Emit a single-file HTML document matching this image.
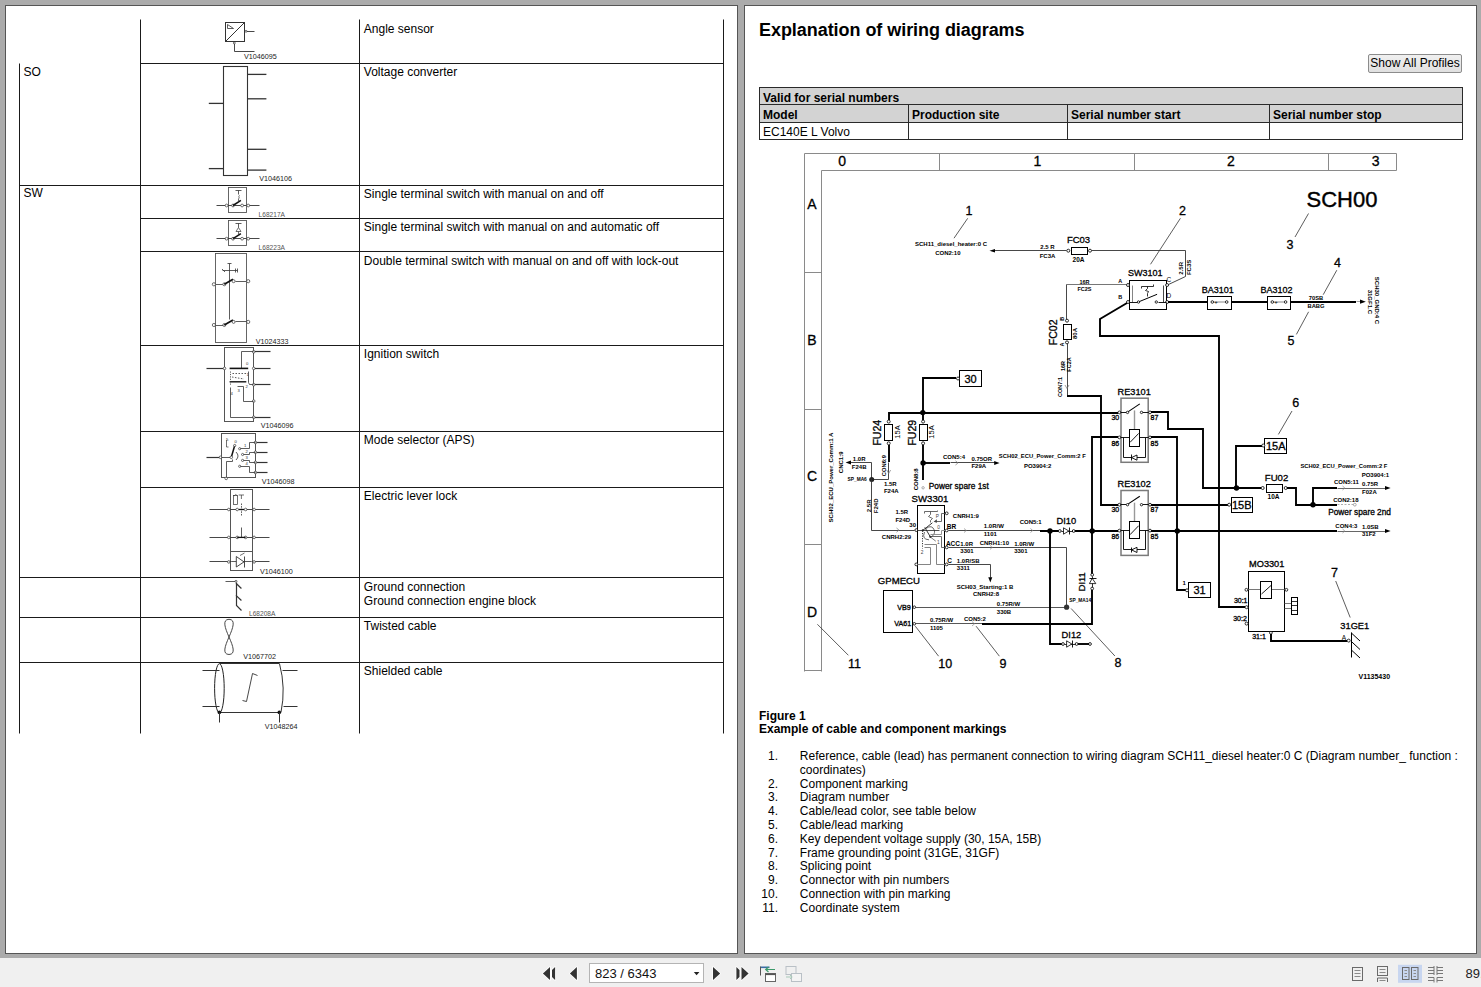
<!DOCTYPE html>
<html><head><meta charset="utf-8"><title>Explanation of wiring diagrams</title>
<style>
html,body{margin:0;padding:0}
body{width:1481px;height:987px;overflow:hidden;position:relative;background:#ababab;font-family:"Liberation Sans", sans-serif;color:#000}
.page{position:absolute;top:5px;width:731px;height:947px;background:#fff;border:1px solid #555}
#p1{left:5px}
#p2{left:744px}
h1{position:absolute;left:759px;top:20px;margin:0;font-size:18px;font-weight:bold;line-height:21px;white-space:nowrap;letter-spacing:-0.05px}
.btn{position:absolute;left:1368px;top:54px;width:92px;height:17px;border:1px solid #8c8c8c;border-radius:2px;background:linear-gradient(#f0f0f0,#e0e0e0);font-size:12px;line-height:17px;text-align:center;box-sizing:content-box;white-space:nowrap}
table.sn{position:absolute;left:759px;top:87px;width:703px;border-collapse:collapse;font-size:12px;table-layout:fixed}
table.sn td{vertical-align:top;border:1px solid #2a2a2a;padding:2px 0 0 3px;height:14px;line-height:14px;white-space:nowrap;overflow:hidden}
table.sn tr.g td{background:#d3d3d3;font-weight:bold}
table.sn tr.h td span{position:relative;top:0.6px}
.cap{position:absolute;left:759px;top:709.5px;font-size:12px;font-weight:bold;line-height:13.8px;white-space:nowrap}
ol.lst{position:absolute;left:759px;top:750px;width:710px;margin:0;padding:0;list-style:none;font-size:12px;line-height:13.8px}
ol.lst li{position:relative;padding-left:40.8px;white-space:nowrap}
ol.lst li span{position:absolute;left:0;width:19px;text-align:right;top:0}
.tb{position:absolute;left:0;top:958px;width:1481px;height:29px;background:#f0f0f0}
.pgbox{position:absolute;left:589px;top:963px;width:108px;height:18px;border:1px solid #b4b4b4;background:#fff;font-size:13px;line-height:20px;padding-left:5px;box-sizing:content-box;color:#111}
.zoom{position:absolute;left:1465.5px;top:965.5px;font-size:13px;line-height:16px;color:#222;white-space:nowrap}
svg.ov{position:absolute;left:0;top:0;font-family:"Liberation Sans", sans-serif}
svg.ov text.m{stroke:#000;stroke-width:0.3px}
svg.ov text.m1{stroke:#000;stroke-width:0.2px}
svg.ov text.m2{stroke:#000;stroke-width:0.4px}
</style></head>
<body>
<div class="page" id="p1"></div>
<div class="page" id="p2"></div>
<h1>Explanation of wiring diagrams</h1>
<div class="btn">Show All Profiles</div>
<table class="sn">
<colgroup><col style="width:149px"><col style="width:159px"><col style="width:202px"><col style="width:193px"></colgroup>
<tr class="g"><td colspan="4" style="padding-top:3px;height:13px;line-height:13px"><span style="position:relative;top:1px">Valid for serial numbers</span></td></tr>
<tr class="g h" style="height:18px"><td style="height:15px"><span>Model</span></td><td><span>Production site</span></td><td><span>Serial number start</span></td><td><span>Serial number stop</span></td></tr>
<tr><td>EC140E L Volvo</td><td></td><td></td><td></td></tr>
</table>
<div class="cap">Figure 1<br>Example of cable and component markings</div>
<ol class="lst">
<li><span>1.</span>Reference, cable (lead) has permanent connection to wiring diagram SCH11_diesel heater:0 C (Diagram number_ function :<br>coordinates)</li>
<li><span>2.</span>Component marking</li>
<li><span>3.</span>Diagram number</li>
<li><span>4.</span>Cable/lead color, see table below</li>
<li><span>5.</span>Cable/lead marking</li>
<li><span>6.</span>Key dependent voltage supply (30, 15A, 15B)</li>
<li><span>7.</span>Frame grounding point (31GE, 31GF)</li>
<li><span>8.</span>Splicing point</li>
<li><span>9.</span>Connector with pin numbers</li>
<li><span>10.</span>Connection with pin marking</li>
<li><span>11.</span>Coordinate system</li>
</ol>
<div class="tb"></div>
<div class="pgbox">823 / 6343</div>
<div class="zoom">89.</div>
<svg class="ov" width="1481" height="987" viewBox="0 0 1481 987">
<line x1="140.5" y1="19.5" x2="140.5" y2="733.5" stroke="#1a1a1a" stroke-width="1"/>
<line x1="359.5" y1="19.5" x2="359.5" y2="733.5" stroke="#1a1a1a" stroke-width="1"/>
<line x1="723.5" y1="19.5" x2="723.5" y2="733.5" stroke="#1a1a1a" stroke-width="1"/>
<line x1="19.5" y1="63.5" x2="19.5" y2="733.5" stroke="#1a1a1a" stroke-width="1"/>
<line x1="140.5" y1="63.5" x2="723.5" y2="63.5" stroke="#1a1a1a" stroke-width="1"/>
<line x1="140.5" y1="218.5" x2="723.5" y2="218.5" stroke="#1a1a1a" stroke-width="1"/>
<line x1="140.5" y1="251.5" x2="723.5" y2="251.5" stroke="#1a1a1a" stroke-width="1"/>
<line x1="140.5" y1="345.5" x2="723.5" y2="345.5" stroke="#1a1a1a" stroke-width="1"/>
<line x1="140.5" y1="431.5" x2="723.5" y2="431.5" stroke="#1a1a1a" stroke-width="1"/>
<line x1="140.5" y1="487.5" x2="723.5" y2="487.5" stroke="#1a1a1a" stroke-width="1"/>
<line x1="19.5" y1="185.5" x2="723.5" y2="185.5" stroke="#1a1a1a" stroke-width="1"/>
<line x1="19.5" y1="577.5" x2="723.5" y2="577.5" stroke="#1a1a1a" stroke-width="1"/>
<line x1="19.5" y1="617.5" x2="723.5" y2="617.5" stroke="#1a1a1a" stroke-width="1"/>
<line x1="19.5" y1="662.5" x2="723.5" y2="662.5" stroke="#1a1a1a" stroke-width="1"/>
<text x="23.5" y="75.6" font-size="12">SO</text>
<text x="23.5" y="197.4" font-size="12">SW</text>
<text x="363.8" y="32.8" font-size="12">Angle sensor</text>
<text x="363.8" y="75.8" font-size="12">Voltage converter</text>
<text x="363.8" y="198" font-size="12">Single terminal switch with manual on and off</text>
<text x="363.8" y="231" font-size="12">Single terminal switch with manual on and automatic off</text>
<text x="363.8" y="264.5" font-size="12">Double terminal switch with manual on and off with lock-out</text>
<text x="363.8" y="358.3" font-size="12">Ignition switch</text>
<text x="363.8" y="444" font-size="12">Mode selector (APS)</text>
<text x="363.8" y="500.3" font-size="12">Electric lever lock</text>
<text x="363.8" y="591" font-size="12">Ground connection</text>
<text x="363.8" y="605" font-size="12">Ground connection engine block</text>
<text x="363.8" y="630" font-size="12">Twisted cable</text>
<text x="363.8" y="675" font-size="12">Shielded cable</text>
<text x="244" y="59" font-size="7.2" fill="#222">V1046095</text>
<text x="259.3" y="180.5" font-size="7.2" fill="#222">V1046106</text>
<text x="258.6" y="216.5" font-size="6.6" fill="#555">L68217A</text>
<text x="258.6" y="249.8" font-size="6.6" fill="#555">L68223A</text>
<text x="255.8" y="343.6" font-size="7.2" fill="#222">V1024333</text>
<text x="260.8" y="427.8" font-size="7.2" fill="#222">V1046096</text>
<text x="261.7" y="483.5" font-size="7.2" fill="#222">V1046098</text>
<text x="260" y="574" font-size="7.2" fill="#222">V1046100</text>
<text x="249" y="615.9" font-size="6.6" fill="#555">L68208A</text>
<text x="243.3" y="658.5" font-size="7.2" fill="#222">V1067702</text>
<text x="264.8" y="729" font-size="7.2" fill="#222">V1048264</text>
<rect x="225.5" y="22.5" width="19" height="19" fill="none" stroke="#333" stroke-width="1"/>
<line x1="225.5" y1="41.5" x2="244.5" y2="22.5" stroke="#333" stroke-width="1"/>
<polyline points="227.5,24.5 227.5,28.5 233.5,28.5 227.5,24.5" fill="none" stroke="#333" stroke-width="0.8"/>
<line x1="244.5" y1="31.5" x2="254.5" y2="31.5" stroke="#333" stroke-width="0.9"/>
<circle cx="246" cy="31.3" r="1" fill="#fff" stroke="#333" stroke-width="0.7"/>
<polyline points="234.5,42.5 234.5,51.5 254.5,51.5" fill="none" stroke="#333" stroke-width="0.9"/>
<circle cx="234.3" cy="43" r="1" fill="#fff" stroke="#333" stroke-width="0.7"/>
<rect x="223.5" y="66.5" width="24" height="109" fill="none" stroke="#333" stroke-width="1.1"/>
<line x1="208.8" y1="103.4" x2="223.5" y2="103.4" stroke="#333" stroke-width="1.3"/>
<line x1="208.8" y1="168.6" x2="223.5" y2="168.6" stroke="#333" stroke-width="1.3"/>
<line x1="247.5" y1="74.4" x2="266.4" y2="74.4" stroke="#333" stroke-width="1.3"/>
<line x1="247.5" y1="98.8" x2="266.4" y2="98.8" stroke="#333" stroke-width="1.3"/>
<line x1="247.5" y1="149.3" x2="266.4" y2="149.3" stroke="#333" stroke-width="1.3"/>
<line x1="247.5" y1="170.1" x2="266.4" y2="170.1" stroke="#333" stroke-width="1.3"/>
<rect x="228.5" y="187.5" width="18" height="25" fill="none" stroke="#555" stroke-width="0.9"/>
<line x1="216.5" y1="205.5" x2="259.5" y2="205.5" stroke="#333" stroke-width="0.9"/>
<circle cx="226.6" cy="205.5" r="1.4" fill="#fff" stroke="#333" stroke-width="0.7"/>
<circle cx="233" cy="205.5" r="1.4" fill="#fff" stroke="#333" stroke-width="0.7"/>
<circle cx="242.1" cy="205.5" r="1.4" fill="#fff" stroke="#333" stroke-width="0.7"/>
<circle cx="248.2" cy="205.5" r="1.4" fill="#fff" stroke="#333" stroke-width="0.7"/>
<line x1="233" y1="205.5" x2="240.9" y2="200.4" stroke="#111" stroke-width="1.6"/>
<line x1="235.5" y1="190.5" x2="241.5" y2="190.5" stroke="#333" stroke-width="0.8"/>
<line x1="238.5" y1="190.5" x2="238.5" y2="194.5" stroke="#333" stroke-width="0.8"/>
<path d="M239.5 195.3 q-1.5 1.5 0 3" fill="none" stroke="#333" stroke-width="0.7"/>
<line x1="238.5" y1="198.3" x2="238.5" y2="202.5" stroke="#333" stroke-width="0.7"/>
<rect x="228.5" y="220.5" width="18" height="25" fill="none" stroke="#555" stroke-width="0.9"/>
<line x1="216.5" y1="238.5" x2="259.5" y2="238.5" stroke="#333" stroke-width="0.9"/>
<circle cx="226.6" cy="238.7" r="1.4" fill="#fff" stroke="#333" stroke-width="0.7"/>
<circle cx="233" cy="238.7" r="1.4" fill="#fff" stroke="#333" stroke-width="0.7"/>
<circle cx="242.1" cy="238.7" r="1.4" fill="#fff" stroke="#333" stroke-width="0.7"/>
<circle cx="248.2" cy="238.7" r="1.4" fill="#fff" stroke="#333" stroke-width="0.7"/>
<line x1="233" y1="238.7" x2="240.9" y2="233.6" stroke="#111" stroke-width="1.6"/>
<line x1="235.5" y1="223.5" x2="241.5" y2="223.5" stroke="#333" stroke-width="0.8"/>
<line x1="238.5" y1="223.5" x2="238.5" y2="227.5" stroke="#333" stroke-width="0.8"/>
<polygon points="236,231.5 241,231.5 238.5,227.5" fill="none" stroke="#333" stroke-width="0.7"/>
<line x1="238.5" y1="231.5" x2="238.5" y2="235.7" stroke="#333" stroke-width="0.7"/>
<rect x="215.5" y="253.5" width="31" height="89" fill="none" stroke="#555" stroke-width="0.9"/>
<line x1="227.5" y1="263.5" x2="231.5" y2="263.5" stroke="#333" stroke-width="0.8"/>
<line x1="229.5" y1="263.5" x2="229.5" y2="319.5" stroke="#333" stroke-width="0.8"/>
<line x1="222.5" y1="270.5" x2="237.5" y2="270.5" stroke="#333" stroke-width="0.8"/>
<line x1="222" y1="269" x2="225" y2="272" stroke="#333" stroke-width="0.8"/>
<line x1="235.5" y1="268.5" x2="235.5" y2="272.5" stroke="#333" stroke-width="0.8"/>
<line x1="237.5" y1="268.5" x2="237.5" y2="272.5" stroke="#333" stroke-width="0.8"/>
<line x1="213.5" y1="284.5" x2="224.5" y2="284.5" stroke="#333" stroke-width="0.8"/>
<circle cx="213.9" cy="284.3" r="1.6" fill="#fff" stroke="#333" stroke-width="0.7"/>
<circle cx="224.3" cy="284.3" r="1.5" fill="#fff" stroke="#333" stroke-width="0.7"/>
<line x1="224.3" y1="284.3" x2="233" y2="279.2" stroke="#111" stroke-width="1.7"/>
<circle cx="233.6" cy="281.2" r="1.5" fill="#fff" stroke="#333" stroke-width="0.7"/>
<line x1="235.5" y1="281.5" x2="248.5" y2="281.5" stroke="#333" stroke-width="0.8"/>
<circle cx="248.2" cy="281.2" r="1.6" fill="#fff" stroke="#333" stroke-width="0.7"/>
<line x1="213.5" y1="325.5" x2="224.5" y2="325.5" stroke="#333" stroke-width="0.8"/>
<circle cx="213.9" cy="325" r="1.6" fill="#fff" stroke="#333" stroke-width="0.7"/>
<circle cx="224.3" cy="325" r="1.5" fill="#fff" stroke="#333" stroke-width="0.7"/>
<line x1="224.3" y1="325" x2="233" y2="319.9" stroke="#111" stroke-width="1.7"/>
<circle cx="233.6" cy="321.9" r="1.5" fill="#fff" stroke="#333" stroke-width="0.7"/>
<line x1="235.5" y1="321.5" x2="248.5" y2="321.5" stroke="#333" stroke-width="0.8"/>
<circle cx="248.2" cy="321.9" r="1.6" fill="#fff" stroke="#333" stroke-width="0.7"/>
<rect x="224.5" y="347.5" width="29" height="74" fill="none" stroke="#555" stroke-width="1"/>
<line x1="206.5" y1="368.5" x2="224.5" y2="368.5" stroke="#333" stroke-width="1.2"/>
<circle cx="224.5" cy="368.4" r="1.3" fill="#fff" stroke="#333" stroke-width="0.7"/>
<line x1="253.5" y1="351.5" x2="270.5" y2="351.5" stroke="#333" stroke-width="1.2"/>
<line x1="253.5" y1="368.5" x2="270.5" y2="368.5" stroke="#333" stroke-width="1.2"/>
<line x1="253.5" y1="384.5" x2="270.5" y2="384.5" stroke="#333" stroke-width="1.2"/>
<line x1="253.5" y1="417.5" x2="270.5" y2="417.5" stroke="#333" stroke-width="1.2"/>
<circle cx="253.7" cy="351.8" r="1.3" fill="#fff" stroke="#333" stroke-width="0.7"/>
<circle cx="253.7" cy="368.4" r="1.3" fill="#fff" stroke="#333" stroke-width="0.7"/>
<circle cx="253.7" cy="384.7" r="1.3" fill="#fff" stroke="#333" stroke-width="0.7"/>
<circle cx="253.7" cy="401.1" r="1.3" fill="#fff" stroke="#333" stroke-width="0.7"/>
<circle cx="253.7" cy="417.3" r="1.3" fill="#fff" stroke="#333" stroke-width="0.7"/>
<polyline points="241.5,368.5 241.5,351.5 253.5,351.5" fill="none" stroke="#333" stroke-width="0.8"/>
<line x1="229.6" y1="368.4" x2="248.2" y2="368.4" stroke="#111" stroke-width="1.6"/>
<polyline points="248.5,371.5 248.5,382.5 249.5,384.5 253.5,384.5" fill="none" stroke="#333" stroke-width="0.8"/>
<polyline points="243.5,386.5 243.5,401.5 253.5,401.5" fill="none" stroke="#333" stroke-width="0.8"/>
<polyline points="230.5,387.5 230.5,417.5 253.5,417.5" fill="none" stroke="#333" stroke-width="0.8"/>
<line x1="229.6" y1="381.8" x2="246.3" y2="381.8" stroke="#111" stroke-width="1.4"/>
<line x1="232.5" y1="373.5" x2="246.5" y2="373.5" stroke="#333" stroke-width="0.8" stroke-dasharray="1.5 1.5"/>
<line x1="232" y1="377" x2="244" y2="379" stroke="#333" stroke-width="0.8" stroke-dasharray="1.5 1.5"/>
<line x1="230.5" y1="371.5" x2="230.5" y2="385.5" stroke="#333" stroke-width="0.8" stroke-dasharray="1.2 1.2"/>
<line x1="237.5" y1="386.5" x2="243.5" y2="386.5" stroke="#333" stroke-width="0.8"/>
<text x="246" y="365" font-size="4.2" fill="#333">0</text>
<text x="246.5" y="375.5" font-size="4.2" fill="#333">1</text>
<text x="245.5" y="387.5" font-size="4.2" fill="#333">2</text>
<text x="237.5" y="392" font-size="4.2" fill="#333">3</text>
<text x="230.5" y="394.5" font-size="4.2" fill="#333">4</text>
<rect x="221.5" y="433.5" width="34" height="44" fill="none" stroke="#555" stroke-width="1"/>
<line x1="206.5" y1="457.5" x2="221.5" y2="457.5" stroke="#333" stroke-width="1.2"/>
<circle cx="220.5" cy="457.3" r="1.3" fill="#fff" stroke="#333" stroke-width="0.7"/>
<line x1="255.5" y1="442.5" x2="267.5" y2="442.5" stroke="#333" stroke-width="1.2"/>
<circle cx="255.4" cy="442.5" r="1.3" fill="#fff" stroke="#333" stroke-width="0.7"/>
<line x1="255.5" y1="452.5" x2="267.5" y2="452.5" stroke="#333" stroke-width="1.2"/>
<circle cx="255.4" cy="452.3" r="1.3" fill="#fff" stroke="#333" stroke-width="0.7"/>
<line x1="255.5" y1="462.5" x2="267.5" y2="462.5" stroke="#333" stroke-width="1.2"/>
<circle cx="255.4" cy="462.4" r="1.3" fill="#fff" stroke="#333" stroke-width="0.7"/>
<line x1="255.5" y1="472.5" x2="267.5" y2="472.5" stroke="#333" stroke-width="1.2"/>
<circle cx="255.4" cy="472.5" r="1.3" fill="#fff" stroke="#333" stroke-width="0.7"/>
<circle cx="226.2" cy="478.4" r="1.3" fill="#fff" stroke="#333" stroke-width="0.7"/>
<line x1="221.5" y1="457.5" x2="231.5" y2="457.5" stroke="#333" stroke-width="0.8"/>
<line x1="231.3" y1="457.3" x2="234.7" y2="445.5" stroke="#111" stroke-width="1.5"/>
<circle cx="231.3" cy="457.3" r="1.3" fill="#fff" stroke="#333" stroke-width="0.7"/>
<circle cx="234.7" cy="445.5" r="1.1" fill="#fff" stroke="#333" stroke-width="0.7"/>
<polyline points="226.5,477.5 226.5,461.5 232.5,461.5 232.5,459.5" fill="none" stroke="#333" stroke-width="0.8"/>
<path d="M236 452 q4 4 0 8" fill="none" stroke="#333" stroke-width="0.8"/>
<circle cx="239.7" cy="448.7" r="1.1" fill="#fff" stroke="#333" stroke-width="0.7"/>
<polyline points="240.5,448.5 249.5,448.5 249.5,442.5 255.5,442.5" fill="none" stroke="#333" stroke-width="0.8"/>
<circle cx="242.6" cy="454.5" r="1.1" fill="#fff" stroke="#333" stroke-width="0.7"/>
<polyline points="243.5,454.5 249.5,454.5 249.5,452.5 255.5,452.5" fill="none" stroke="#333" stroke-width="0.8"/>
<circle cx="242.6" cy="460.4" r="1.1" fill="#fff" stroke="#333" stroke-width="0.7"/>
<polyline points="243.5,460.5 249.5,460.5 249.5,462.5 255.5,462.5" fill="none" stroke="#333" stroke-width="0.8"/>
<circle cx="239.7" cy="466.3" r="1.1" fill="#fff" stroke="#333" stroke-width="0.7"/>
<polyline points="240.5,466.5 249.5,466.5 249.5,472.5 255.5,472.5" fill="none" stroke="#333" stroke-width="0.8"/>
<polyline points="226.5,440 226.5,447 228.5,447" fill="none" stroke="#333" stroke-width="0.7"/>
<text x="226" y="441" font-size="4.2" fill="#333">5</text>
<text x="234.5" y="443" font-size="4.2" fill="#333">0</text>
<text x="244" y="447" font-size="4.2" fill="#333">1</text>
<text x="245.5" y="453" font-size="4.2" fill="#333">2</text>
<text x="245.5" y="459" font-size="4.2" fill="#333">3</text>
<text x="245.5" y="465" font-size="4.2" fill="#333">4</text>
<rect x="230.5" y="489.5" width="22" height="81" fill="none" stroke="#555" stroke-width="1"/>
<line x1="230.5" y1="551.5" x2="252.5" y2="551.5" stroke="#555" stroke-width="1"/>
<line x1="209.5" y1="509.5" x2="269.5" y2="509.5" stroke="#333" stroke-width="0.9"/>
<circle cx="228.8" cy="509.5" r="1.3" fill="#fff" stroke="#333" stroke-width="0.7"/>
<circle cx="237.2" cy="509.5" r="1.3" fill="#fff" stroke="#333" stroke-width="0.7"/>
<circle cx="245.6" cy="509.5" r="1.3" fill="#fff" stroke="#333" stroke-width="0.7"/>
<circle cx="254.1" cy="509.5" r="1.3" fill="#fff" stroke="#333" stroke-width="0.7"/>
<line x1="209.5" y1="537.5" x2="269.5" y2="537.5" stroke="#333" stroke-width="0.9"/>
<circle cx="228.8" cy="537.4" r="1.3" fill="#fff" stroke="#333" stroke-width="0.7"/>
<circle cx="237.2" cy="537.4" r="1.3" fill="#fff" stroke="#333" stroke-width="0.7"/>
<circle cx="245.6" cy="537.4" r="1.3" fill="#fff" stroke="#333" stroke-width="0.7"/>
<circle cx="254.1" cy="537.4" r="1.3" fill="#fff" stroke="#333" stroke-width="0.7"/>
<line x1="209.5" y1="561.5" x2="269.5" y2="561.5" stroke="#333" stroke-width="0.9"/>
<circle cx="228.8" cy="561.9" r="1.3" fill="#fff" stroke="#333" stroke-width="0.7"/>
<circle cx="254.1" cy="561.9" r="1.3" fill="#fff" stroke="#333" stroke-width="0.7"/>
<rect x="231.5" y="552" width="20.2" height="17.3" fill="#fff" stroke="none" stroke-width="0"/>
<line x1="231.5" y1="561.5" x2="251.5" y2="561.5" stroke="#333" stroke-width="0.8"/>
<polygon points="236.3,556.5 236.3,567 244,561.9" fill="#fff" stroke="#333" stroke-width="0.9"/>
<line x1="244.5" y1="556.5" x2="244.5" y2="567.5" stroke="#333" stroke-width="0.9"/>
<line x1="240" y1="555.5" x2="244.5" y2="553" stroke="#333" stroke-width="0.7"/>
<line x1="241.5" y1="503.5" x2="241.5" y2="516.5" stroke="#333" stroke-width="0.8" stroke-dasharray="1.6 1"/>
<line x1="241.5" y1="527.5" x2="241.5" y2="537.5" stroke="#333" stroke-width="0.8"/>
<line x1="239" y1="509.5" x2="244" y2="509.5" stroke="#111" stroke-width="1.3"/>
<line x1="237.2" y1="537.4" x2="245.6" y2="537.4" stroke="#111" stroke-width="1.3"/>
<rect x="233.5" y="495.5" width="4" height="9" fill="none" stroke="#333" stroke-width="0.7"/>
<path d="M234 496 q1.8 -3 3.5 0" fill="none" stroke="#333" stroke-width="0.7"/>
<line x1="238.7" y1="495" x2="244" y2="495" stroke="#333" stroke-width="0.7"/>
<line x1="241.4" y1="495" x2="241.4" y2="499" stroke="#333" stroke-width="0.7"/>
<line x1="225.5" y1="581.5" x2="235.5" y2="581.5" stroke="#333" stroke-width="0.8"/>
<circle cx="236" cy="581.3" r="1" fill="#fff" stroke="#333" stroke-width="0.7"/>
<polyline points="236.5,582.5 236.5,605.5 241.5,610.5" fill="none" stroke="#333" stroke-width="1.2"/>
<line x1="236" y1="583.3" x2="241.4" y2="588.5" stroke="#333" stroke-width="1.2"/>
<line x1="236" y1="595.4" x2="241.4" y2="600.5" stroke="#333" stroke-width="1.2"/>
<path d="M229 637 C 225 628, 222 619.5, 229 619.3 C 236 619.5, 233 628, 229 637 C 225 646, 222 654.3, 229 654.5 C 236 654.3, 233 646, 229 637 Z" fill="none" stroke="#333" stroke-width="0.9"/>
<ellipse cx="219.4" cy="688.3" rx="4.8" ry="24.6" fill="none" stroke="#222" stroke-width="1"/>
<line x1="219.5" y1="663.5" x2="279.5" y2="663.5" stroke="#333" stroke-width="1"/>
<path d="M279.5 663.7 Q 286 688 281 712.3" fill="none" stroke="#333" stroke-width="1"/>
<line x1="219.5" y1="712.5" x2="279.5" y2="712.5" stroke="#333" stroke-width="1"/>
<line x1="202.5" y1="670.5" x2="219.5" y2="670.5" stroke="#333" stroke-width="1"/>
<line x1="282.5" y1="670.5" x2="297.5" y2="670.5" stroke="#333" stroke-width="1"/>
<line x1="202.5" y1="706.5" x2="219.5" y2="706.5" stroke="#333" stroke-width="1"/>
<line x1="283.5" y1="706.5" x2="297.5" y2="706.5" stroke="#333" stroke-width="1"/>
<circle cx="219.4" cy="712.4" r="1.8" fill="#111"/>
<circle cx="279.3" cy="712.4" r="1.8" fill="#111"/>
<line x1="219.5" y1="712.5" x2="219.5" y2="722.5" stroke="#333" stroke-width="1"/>
<line x1="279.5" y1="712.5" x2="279.5" y2="722.5" stroke="#333" stroke-width="1"/>
<polyline points="242.5,700.5 246.5,701.5 252.5,673.5 257.5,675.5" fill="none" stroke="#333" stroke-width="0.9"/>
<line x1="804.5" y1="153.5" x2="1396.5" y2="153.5" stroke="#8a8a8a" stroke-width="1"/>
<line x1="821.5" y1="170.5" x2="1396.5" y2="170.5" stroke="#8a8a8a" stroke-width="1"/>
<line x1="804.5" y1="153.5" x2="804.5" y2="671.5" stroke="#8a8a8a" stroke-width="1"/>
<line x1="821.5" y1="170.5" x2="821.5" y2="671.5" stroke="#8a8a8a" stroke-width="1"/>
<line x1="804.5" y1="670.5" x2="821.5" y2="670.5" stroke="#8a8a8a" stroke-width="1"/>
<line x1="1396.5" y1="153.5" x2="1396.5" y2="170.5" stroke="#8a8a8a" stroke-width="1"/>
<line x1="939.5" y1="153.5" x2="939.5" y2="170.5" stroke="#8a8a8a" stroke-width="1"/>
<line x1="1134.5" y1="153.5" x2="1134.5" y2="170.5" stroke="#8a8a8a" stroke-width="1"/>
<line x1="1328.5" y1="153.5" x2="1328.5" y2="170.5" stroke="#8a8a8a" stroke-width="1"/>
<line x1="804.5" y1="272.5" x2="821.5" y2="272.5" stroke="#8a8a8a" stroke-width="1"/>
<line x1="804.5" y1="409.5" x2="821.5" y2="409.5" stroke="#8a8a8a" stroke-width="1"/>
<line x1="804.5" y1="544.5" x2="821.5" y2="544.5" stroke="#8a8a8a" stroke-width="1"/>
<text x="842.2" y="165.7" font-size="14" text-anchor="middle" class="m">0</text>
<text x="1037.3" y="165.7" font-size="14" text-anchor="middle" class="m">1</text>
<text x="1231" y="165.7" font-size="14" text-anchor="middle" class="m">2</text>
<text x="1375.7" y="165.7" font-size="14" text-anchor="middle" class="m">3</text>
<text x="812" y="208.9" font-size="14" text-anchor="middle" class="m">A</text>
<text x="812" y="345.1" font-size="14" text-anchor="middle" class="m">B</text>
<text x="812" y="480.5" font-size="14" text-anchor="middle" class="m">C</text>
<text x="812" y="616.9" font-size="14" text-anchor="middle" class="m">D</text>
<text x="969" y="214.7" font-size="12.5" text-anchor="middle" class="m">1</text>
<text x="1182.4" y="215" font-size="12.5" text-anchor="middle" class="m">2</text>
<text x="1290" y="249" font-size="12.5" text-anchor="middle" class="m">3</text>
<text x="1337.5" y="267" font-size="12.5" text-anchor="middle" class="m">4</text>
<text x="1291" y="345" font-size="12.5" text-anchor="middle" class="m">5</text>
<text x="1295.8" y="407.2" font-size="12.5" text-anchor="middle" class="m">6</text>
<text x="1334.6" y="576.5" font-size="12.5" text-anchor="middle" class="m">7</text>
<text x="1118" y="667.4" font-size="12.5" text-anchor="middle" class="m">8</text>
<text x="1003" y="667.8" font-size="12.5" text-anchor="middle" class="m">9</text>
<text x="945.3" y="667.8" font-size="12.5" text-anchor="middle" class="m">10</text>
<text x="854.5" y="668.3" font-size="12.5" text-anchor="middle" class="m">11</text>
<line x1="967.7" y1="218.3" x2="954" y2="238.2" stroke="#333" stroke-width="0.8"/>
<line x1="1180.4" y1="218.3" x2="1150.5" y2="264.3" stroke="#333" stroke-width="0.8"/>
<line x1="1308.5" y1="213.5" x2="1295" y2="237" stroke="#333" stroke-width="0.8"/>
<line x1="1336.8" y1="270.2" x2="1323.2" y2="294.7" stroke="#333" stroke-width="0.8"/>
<line x1="1296.4" y1="334.4" x2="1308.6" y2="311.8" stroke="#333" stroke-width="0.8"/>
<line x1="1292" y1="411" x2="1278.4" y2="434.4" stroke="#333" stroke-width="0.8"/>
<line x1="1335.7" y1="581" x2="1350.2" y2="617.5" stroke="#333" stroke-width="0.8"/>
<line x1="1071.1" y1="608.5" x2="1114.9" y2="656" stroke="#333" stroke-width="0.8"/>
<line x1="976.1" y1="626.2" x2="999.4" y2="656.2" stroke="#333" stroke-width="0.8"/>
<line x1="915.3" y1="626.2" x2="938.6" y2="656.2" stroke="#333" stroke-width="0.8"/>
<line x1="817.4" y1="624.3" x2="848.4" y2="655.3" stroke="#333" stroke-width="0.8"/>
<text x="1306.5" y="206.9" font-size="22" class="m2">SCH00</text>
<line x1="993.5" y1="250.5" x2="1066.5" y2="250.5" stroke="#333" stroke-width="0.9"/>
<polygon points="989.5,250.7 995,248.9 995,252.5" fill="#000" stroke="none" stroke-width="0"/>
<text x="951" y="246.2" font-size="6" text-anchor="middle" font-weight="bold">SCH11_diesel_heater:0 C</text>
<text x="947.8" y="254.6" font-size="6" text-anchor="middle" font-weight="bold">CON2:10</text>
<text x="1047.5" y="249.3" font-size="6" text-anchor="middle" font-weight="bold">2.5 R</text>
<text x="1047.5" y="257.6" font-size="6" text-anchor="middle" font-weight="bold">FC3A</text>
<text x="1078.5" y="243.4" font-size="9.5" text-anchor="middle" class="m">FC03</text>
<circle cx="1068.3" cy="250.7" r="1.5" fill="#fff" stroke="#000" stroke-width="0.8"/>
<rect x="1071.5" y="247.5" width="16" height="7" fill="none" stroke="#000" stroke-width="1"/>
<circle cx="1090" cy="250.7" r="1.5" fill="#fff" stroke="#000" stroke-width="0.8"/>
<text x="1078.5" y="262" font-size="6.5" text-anchor="middle" font-weight="bold">20A</text>
<polyline points="1091.5,250.5 1185.5,250.5 1185.5,276.5 1168.5,284.5" fill="none" stroke="#333" stroke-width="0.9"/>
<text x="1180.7" y="270.4" font-size="6" text-anchor="middle" font-weight="bold" transform="rotate(-90 1180.7 268.3)">2.5R</text>
<text x="1189.2" y="269.5" font-size="6" text-anchor="middle" font-weight="bold" transform="rotate(-90 1189.2 267.4)">FC3S</text>
<line x1="1066.5" y1="284.5" x2="1126.5" y2="284.5" stroke="#666" stroke-width="0.9"/>
<line x1="1066.5" y1="284.5" x2="1066.5" y2="319.5" stroke="#333" stroke-width="0.9"/>
<text x="1084.5" y="283.6" font-size="5.5" text-anchor="middle" font-weight="bold">16R</text>
<text x="1084.5" y="291" font-size="5.5" text-anchor="middle" font-weight="bold">FC2S</text>
<text x="1128" y="275.7" font-size="9" class="m">SW3101</text>
<rect x="1129.5" y="280.5" width="37" height="29" fill="none" stroke="#000" stroke-width="1"/>
<circle cx="1128" cy="285" r="1.5" fill="#fff" stroke="#000" stroke-width="0.8"/>
<circle cx="1128" cy="302" r="1.5" fill="#fff" stroke="#000" stroke-width="0.8"/>
<circle cx="1167.1" cy="285" r="1.5" fill="#fff" stroke="#000" stroke-width="0.8"/>
<circle cx="1167.1" cy="302" r="1.5" fill="#fff" stroke="#000" stroke-width="0.8"/>
<text x="1120.2" y="282.5" font-size="5.5" text-anchor="middle" font-weight="bold">A</text>
<text x="1120.2" y="298.8" font-size="5.5" text-anchor="middle" font-weight="bold">B</text>
<text x="1168.9" y="281.7" font-size="6.5" text-anchor="middle">C</text>
<text x="1168.9" y="298.3" font-size="6.5" text-anchor="middle">D</text>
<line x1="1132.5" y1="285.5" x2="1132.5" y2="302.5" stroke="#777" stroke-width="0.9"/>
<line x1="1163.5" y1="285.5" x2="1163.5" y2="302.5" stroke="#333" stroke-width="0.9"/>
<line x1="1129.5" y1="302.5" x2="1137.5" y2="302.5" stroke="#000" stroke-width="0.9"/>
<line x1="1158.5" y1="302.5" x2="1166.5" y2="302.5" stroke="#000" stroke-width="0.9"/>
<circle cx="1138.5" cy="302" r="1.2" fill="#fff" stroke="#000" stroke-width="0.8"/>
<circle cx="1156.3" cy="302" r="1.2" fill="#fff" stroke="#000" stroke-width="0.8"/>
<line x1="1139.5" y1="301.5" x2="1157.1" y2="294.3" stroke="#000" stroke-width="1"/>
<polyline points="1141.5,288.5 1141.5,286.5 1153.5,286.5 1153.5,284.5" fill="none" stroke="#000" stroke-width="0.8"/>
<polyline points="1147.5,286.5 1147.5,288.5 1145.5,290.5 1148.5,291.5 1147.5,293.5 1147.5,296.5" fill="none" stroke="#000" stroke-width="0.8"/>
<polyline points="1127,303 1100,319 1100,336 1219,336 1219,607 1245,607" fill="none" stroke="#000" stroke-width="1.9"/>
<line x1="1168" y1="302" x2="1356" y2="302" stroke="#000" stroke-width="1.9"/>
<line x1="1356.5" y1="301.5" x2="1360.5" y2="301.5" stroke="#888" stroke-width="0.8"/>
<polygon points="1365.8,301.7 1360,299.6 1360,303.8" fill="#000" stroke="none" stroke-width="0"/>
<rect x="1207.5" y="296.5" width="24" height="13" fill="#fff" stroke="#000" stroke-width="1"/>
<circle cx="1212.3" cy="302" r="1.3" fill="#fff" stroke="#000" stroke-width="0.8"/>
<circle cx="1226.7" cy="302" r="1.3" fill="#fff" stroke="#000" stroke-width="0.8"/>
<line x1="1214" y1="302" x2="1225" y2="302" stroke="#555" stroke-width="0.7"/>
<text x="1216" y="304" font-size="6" text-anchor="middle">+</text>
<rect x="1267.5" y="296.5" width="23" height="13" fill="#fff" stroke="#000" stroke-width="1"/>
<circle cx="1272.3" cy="302" r="1.3" fill="#fff" stroke="#000" stroke-width="0.8"/>
<circle cx="1285.6" cy="302" r="1.3" fill="#fff" stroke="#000" stroke-width="0.8"/>
<line x1="1274" y1="302" x2="1283.9" y2="302" stroke="#555" stroke-width="0.7"/>
<text x="1276" y="304" font-size="6" text-anchor="middle">+</text>
<text x="1201.8" y="292.6" font-size="9" class="m">BA3101</text>
<text x="1260.4" y="292.6" font-size="9" class="m">BA3102</text>
<text x="1316" y="300.3" font-size="5.8" text-anchor="middle" font-weight="bold">70SB</text>
<text x="1316" y="308.3" font-size="5.8" text-anchor="middle" font-weight="bold">BABG</text>
<text x="1377.2" y="302.6" font-size="6" text-anchor="middle" font-weight="bold" transform="rotate(90 1377.2 300.5)">SCH30_GND:4 C</text>
<text x="1370.5" y="303.9" font-size="6" text-anchor="middle" font-weight="bold" transform="rotate(90 1370.5 301.8)">31GF1.C</text>
<circle cx="1067" cy="320.7" r="1.5" fill="#fff" stroke="#000" stroke-width="0.8"/>
<rect x="1063.5" y="324.5" width="8" height="15" fill="none" stroke="#000" stroke-width="1"/>
<circle cx="1067" cy="342.4" r="1.5" fill="#fff" stroke="#000" stroke-width="0.8"/>
<text x="1053.6" y="335.98" font-size="10.5" text-anchor="middle" class="m" transform="rotate(-90 1053.6 332.3)">FC02</text>
<text x="1061.8" y="320.73" font-size="5.5" text-anchor="middle" font-weight="bold" transform="rotate(-90 1061.8 318.8)">B</text>
<text x="1061.8" y="346.43" font-size="5.5" text-anchor="middle" font-weight="bold" transform="rotate(-90 1061.8 344.5)">A</text>
<text x="1074.5" y="335.6" font-size="6" text-anchor="middle" font-weight="bold" transform="rotate(-90 1074.5 333.5)">80A</text>
<line x1="1067.5" y1="343.5" x2="1067.5" y2="395.5" stroke="#333" stroke-width="0.9"/>
<text x="1062.6" y="367.93" font-size="5.5" text-anchor="middle" font-weight="bold" transform="rotate(-90 1062.6 366)">16R</text>
<text x="1068.9" y="366.43" font-size="5.5" text-anchor="middle" font-weight="bold" transform="rotate(-90 1068.9 364.5)">FC2A</text>
<text x="1060.5" y="388.93" font-size="5.5" text-anchor="middle" font-weight="bold" transform="rotate(-90 1060.5 387)">CON7:1</text>
<polyline points="1065,385 1067,388.5 1069,385" fill="none" stroke="#777" stroke-width="0.7"/>
<polyline points="1067,396 1101,396 1101,505 1118,505" fill="none" stroke="#000" stroke-width="1.9"/>
<rect x="959.5" y="370.5" width="22" height="16" fill="none" stroke="#000" stroke-width="1"/>
<circle cx="958" cy="378.5" r="1.5" fill="#fff" stroke="#000" stroke-width="0.8"/>
<text x="970.5" y="382.6" font-size="11" text-anchor="middle" class="m">30</text>
<polyline points="956,378 923,378 923,413" fill="none" stroke="#000" stroke-width="1.9"/>
<line x1="889" y1="413" x2="1118" y2="413" stroke="#000" stroke-width="1.9"/>
<line x1="889" y1="412" x2="889" y2="420" stroke="#000" stroke-width="1.9"/>
<line x1="923" y1="413" x2="923" y2="420" stroke="#000" stroke-width="1.9"/>
<circle cx="922.8" cy="412.6" r="2.7" fill="#000"/>
<circle cx="888.7" cy="421.6" r="1.5" fill="#fff" stroke="#000" stroke-width="0.8"/>
<rect x="884.5" y="424.5" width="8" height="16" fill="none" stroke="#000" stroke-width="1"/>
<circle cx="888.7" cy="443.3" r="1.5" fill="#fff" stroke="#000" stroke-width="0.8"/>
<text x="877.7" y="436.38" font-size="10.5" text-anchor="middle" class="m" transform="rotate(-90 877.7 432.7)">FU24</text>
<text x="896.9" y="434.62" font-size="7.5" text-anchor="middle" transform="rotate(-90 896.9 432)">15A</text>
<circle cx="923.1" cy="421.6" r="1.5" fill="#fff" stroke="#000" stroke-width="0.8"/>
<rect x="919.5" y="424.5" width="8" height="16" fill="none" stroke="#000" stroke-width="1"/>
<circle cx="923.1" cy="443.3" r="1.5" fill="#fff" stroke="#000" stroke-width="0.8"/>
<text x="912.1" y="436.38" font-size="10.5" text-anchor="middle" class="m" transform="rotate(-90 912.1 432.7)">FU29</text>
<text x="931.3" y="434.62" font-size="7.5" text-anchor="middle" transform="rotate(-90 931.3 432)">15A</text>
<line x1="889" y1="445" x2="889" y2="462" stroke="#000" stroke-width="1.9"/>
<line x1="888.5" y1="462.5" x2="888.5" y2="479.5" stroke="#333" stroke-width="0.9"/>
<polyline points="886.8,470 888.7,473.5 890.6,470" fill="none" stroke="#777" stroke-width="0.7"/>
<text x="884.3" y="467.63" font-size="5.8" text-anchor="middle" font-weight="bold" transform="rotate(-90 884.3 465.6)">CON6:9</text>
<polyline points="888.5,479.5 871.5,479.5 871.5,462.5 849.5,462.5" fill="none" stroke="#333" stroke-width="0.9"/>
<polygon points="845.6,462.5 851,460.5 851,464.5" fill="#000" stroke="none" stroke-width="0"/>
<circle cx="871.7" cy="479.6" r="2.5" fill="#222"/>
<text x="866.8" y="481" font-size="4.8" text-anchor="end" font-weight="bold">SP_MA6</text>
<text x="859.2" y="461" font-size="6" text-anchor="middle" font-weight="bold">1.0R</text>
<text x="859.2" y="468.6" font-size="6" text-anchor="middle" font-weight="bold">F24B</text>
<polyline points="871.5,479.5 871.5,530.5 914.5,530.5" fill="none" stroke="#333" stroke-width="0.9"/>
<polyline points="896.5,528 899,530.1 896.5,532.2" fill="none" stroke="#777" stroke-width="0.7"/>
<text x="869.4" y="507.9" font-size="6" text-anchor="middle" font-weight="bold" transform="rotate(-90 869.4 505.8)">2.5R</text>
<text x="875.6" y="507.9" font-size="6" text-anchor="middle" font-weight="bold" transform="rotate(-90 875.6 505.8)">F24D</text>
<text x="883.9" y="485.5" font-size="6" font-weight="bold">1.5R</text>
<text x="883.9" y="492.6" font-size="6" font-weight="bold">F24A</text>
<text x="830.5" y="479.6" font-size="6" text-anchor="middle" font-weight="bold" transform="rotate(-90 830.5 477.5)">SCH02_ECU_Power_Comm:1 A</text>
<text x="840.7" y="464.4" font-size="6" text-anchor="middle" font-weight="bold" transform="rotate(-90 840.7 462.3)">CNC1:9</text>
<line x1="923" y1="445" x2="923" y2="480" stroke="#000" stroke-width="1.9"/>
<circle cx="923.1" cy="462.9" r="2.7" fill="#000"/>
<line x1="923" y1="463" x2="950" y2="463" stroke="#000" stroke-width="1.9"/>
<line x1="950.5" y1="462.5" x2="995.5" y2="462.5" stroke="#333" stroke-width="0.9"/>
<polyline points="955.5,460.8 958,462.9 955.5,465" fill="none" stroke="#777" stroke-width="0.7"/>
<polygon points="999.6,462.9 994.2,460.9 994.2,464.9" fill="#000" stroke="none" stroke-width="0"/>
<text x="954" y="458.6" font-size="6" text-anchor="middle" font-weight="bold">CON5:4</text>
<text x="971.4" y="460.6" font-size="6" font-weight="bold">0.75OR</text>
<text x="971.4" y="468.2" font-size="6" font-weight="bold">F29A</text>
<circle cx="923.1" cy="487.8" r="1.2" fill="#fff" stroke="#888" stroke-width="0.7"/>
<text x="915.6" y="481.4" font-size="6" text-anchor="middle" font-weight="bold" transform="rotate(-90 915.6 479.3)">CON8:8</text>
<text x="928.8" y="488.5" font-size="8.3" class="m">Power spare 1st</text>
<text x="1042.3" y="458" font-size="6" text-anchor="middle" font-weight="bold" textLength="87" lengthAdjust="spacingAndGlyphs">SCH02_ECU_Power_Comm:2 F</text>
<text x="1037.6" y="467.6" font-size="6" text-anchor="middle" font-weight="bold">PO3904:2</text>
<text x="911.6" y="501.8" font-size="9.6" class="m">SW3301</text>
<rect x="917.5" y="505.5" width="27" height="68" fill="none" stroke="#000" stroke-width="1"/>
<circle cx="916.3" cy="530.1" r="1.4" fill="#fff" stroke="#000" stroke-width="0.8"/>
<circle cx="916.3" cy="564.4" r="1.4" fill="#fff" stroke="#000" stroke-width="0.8"/>
<circle cx="946.7" cy="513.3" r="1.4" fill="#fff" stroke="#000" stroke-width="0.8"/>
<circle cx="946.7" cy="530.5" r="1.4" fill="#fff" stroke="#000" stroke-width="0.8"/>
<circle cx="946.7" cy="547.4" r="1.4" fill="#fff" stroke="#000" stroke-width="0.8"/>
<circle cx="946.7" cy="564.4" r="1.4" fill="#fff" stroke="#000" stroke-width="0.8"/>
<polyline points="924.5,513.5 924.5,511.5 937.5,511.5 937.5,510.5" fill="none" stroke="#444" stroke-width="0.8"/>
<polyline points="930.5,511.5 930.5,514.5 928.5,516.5 932.5,518.5 930.5,520.5 930.5,522.5" fill="none" stroke="#444" stroke-width="0.8"/>
<text x="937.4" y="518.2" font-size="4.8" text-anchor="middle" fill="#444">P</text>
<polyline points="945.5,513.5 941.5,513.5 941.5,521.5 935.5,521.5" fill="none" stroke="#444" stroke-width="0.8"/>
<polygon points="933.6,521.8 936.8,519.3 937,522.8" fill="#444" stroke="none" stroke-width="0"/>
<line x1="922.8" y1="530.4" x2="932.4" y2="522.8" stroke="#222" stroke-width="0.9"/>
<line x1="924.8" y1="527.4" x2="930.3" y2="536.8" stroke="#222" stroke-width="0.9"/>
<path d="M924.5 532 Q 921.5 539.5 929 539.8" fill="none" stroke="#444" stroke-width="0.8"/>
<path d="M926 528.5 Q 932 524 934.5 530.5 Q 935 535 931 537" fill="none" stroke="#444" stroke-width="0.8"/>
<circle cx="922.8" cy="530.4" r="1.1" fill="#222"/>
<circle cx="930.3" cy="536.8" r="1.1" fill="#222"/>
<text x="938.6" y="529.3" font-size="4.8" text-anchor="middle" fill="#444">0</text>
<text x="938.4" y="544.4" font-size="4.8" text-anchor="middle" fill="#444">1</text>
<line x1="931" y1="537.5" x2="935.8" y2="541.2" stroke="#444" stroke-width="0.7"/>
<line x1="917.5" y1="530.5" x2="939.5" y2="530.5" stroke="#222" stroke-width="0.8"/>
<polyline points="945.5,530.5 941.5,530.5 941.5,534.5 930.5,534.5" fill="none" stroke="#888" stroke-width="0.9"/>
<polyline points="930.5,536.5 941.5,536.5 941.5,547.5 945.5,547.5" fill="none" stroke="#444" stroke-width="0.8"/>
<line x1="922.5" y1="530.5" x2="922.5" y2="548.5" stroke="#222" stroke-width="0.9" stroke-dasharray="1.2 1.3"/>
<text x="922" y="554" font-size="4.8" text-anchor="middle" fill="#444">2</text>
<polyline points="924.5,544.5 936.5,544.5 936.5,564.5 945.5,564.5" fill="none" stroke="#777" stroke-width="0.9"/>
<polyline points="924.5,547.5 930.5,547.5 930.5,564.5 917.5,564.5" fill="none" stroke="#777" stroke-width="0.9"/>
<text x="895.4" y="514.4" font-size="6" font-weight="bold">1.5R</text>
<text x="895.4" y="521.8" font-size="6" font-weight="bold">F24D</text>
<text x="909.3" y="527.2" font-size="6" font-weight="bold">30</text>
<text x="881.8" y="539.4" font-size="6" font-weight="bold">CNRH2:29</text>
<text x="952.8" y="518.3" font-size="6" font-weight="bold">CNRH1:9</text>
<text x="946.7" y="529.3" font-size="6.5" font-weight="bold">BR</text>
<text x="945.9" y="545.8" font-size="6.5" font-weight="bold">ACC</text>
<text x="947.3" y="563.2" font-size="6.5" font-weight="bold">C</text>
<line x1="948.5" y1="530.5" x2="1041.5" y2="530.5" stroke="#333" stroke-width="0.9"/>
<polyline points="964,528.5 966.3,530.5 964,532.5" fill="none" stroke="#888" stroke-width="0.7"/>
<polyline points="1030.5,528.5 1032.8,530.5 1030.5,532.5" fill="none" stroke="#888" stroke-width="0.7"/>
<text x="983.8" y="528.2" font-size="6" font-weight="bold">1.0R/W</text>
<text x="983.8" y="535.6" font-size="6" font-weight="bold">1101</text>
<text x="1019.7" y="524.2" font-size="6" font-weight="bold">CON5:1</text>
<line x1="1040" y1="531" x2="1058" y2="531" stroke="#000" stroke-width="1.9"/>
<polyline points="948.5,547.5 1066.5,547.5 1066.5,607.5" fill="none" stroke="#333" stroke-width="0.9"/>
<polyline points="990,545.4 992.3,547.4 990,549.4" fill="none" stroke="#888" stroke-width="0.7"/>
<text x="960.3" y="545.6" font-size="6" font-weight="bold">1.0R</text>
<text x="960.3" y="552.8" font-size="6" font-weight="bold">3301</text>
<text x="979.7" y="544.6" font-size="6" font-weight="bold">CNRH1:10</text>
<text x="1014.2" y="545.6" font-size="6" font-weight="bold">1.0R/W</text>
<text x="1014.2" y="552.8" font-size="6" font-weight="bold">3301</text>
<polyline points="948.5,564.5 990.5,564.5 990.5,577.5" fill="none" stroke="#333" stroke-width="0.9"/>
<polygon points="990.3,582.5 988.3,577.3 992.3,577.3" fill="#000" stroke="none" stroke-width="0"/>
<text x="956.8" y="562.6" font-size="6" font-weight="bold">1.0R/SB</text>
<text x="956.8" y="569.8" font-size="6" font-weight="bold">3311</text>
<text x="985" y="589" font-size="6" text-anchor="middle" font-weight="bold">SCH03_Starting:1 B</text>
<text x="986" y="595.6" font-size="6" text-anchor="middle" font-weight="bold">CNRH2:8</text>
<text x="877.8" y="584.3" font-size="9.6" class="m">GPMECU</text>
<rect x="883.5" y="590.5" width="29" height="42" fill="none" stroke="#000" stroke-width="1"/>
<text x="910.8" y="609.7" font-size="7.2" text-anchor="end" class="m">VB9</text>
<text x="911.3" y="626.2" font-size="7.2" text-anchor="end" class="m">VA61</text>
<circle cx="914.3" cy="607.2" r="1.3" fill="#fff" stroke="#000" stroke-width="0.8"/>
<circle cx="914.3" cy="623.8" r="1.3" fill="#fff" stroke="#000" stroke-width="0.8"/>
<line x1="915.5" y1="607.5" x2="1066.5" y2="607.5" stroke="#444" stroke-width="0.9"/>
<circle cx="1066.6" cy="607.2" r="2.6" fill="#333"/>
<text x="1069.3" y="602.2" font-size="4.8" font-weight="bold">SP_MA14</text>
<text x="996.8" y="606.2" font-size="6" font-weight="bold">0.75R/W</text>
<text x="996.8" y="613.6" font-size="6" font-weight="bold">330B</text>
<line x1="915.5" y1="623.5" x2="982.5" y2="623.5" stroke="#444" stroke-width="0.9"/>
<polyline points="972,621.6 974.5,623.8 972,626" fill="none" stroke="#888" stroke-width="0.7"/>
<text x="929.9" y="621.6" font-size="6" font-weight="bold">0.75R/W</text>
<text x="929.9" y="629.6" font-size="6" font-weight="bold">1105</text>
<text x="963.9" y="620.6" font-size="6" font-weight="bold">CON5:2</text>
<polyline points="982,624 1092,624 1092,590" fill="none" stroke="#000" stroke-width="1.9"/>
<text x="1117.6" y="394.6" font-size="9.2" class="m">RE3101</text>
<rect x="1121" y="398.2" width="27.2" height="64.1" fill="none" stroke="#7a7a7a" stroke-width="1.5"/>
<circle cx="1119.4" cy="412.4" r="1.4" fill="#fff" stroke="#000" stroke-width="0.8"/>
<circle cx="1150" cy="412.4" r="1.4" fill="#fff" stroke="#000" stroke-width="0.8"/>
<circle cx="1119.4" cy="437.4" r="1.4" fill="#fff" stroke="#000" stroke-width="0.8"/>
<circle cx="1150" cy="437.4" r="1.4" fill="#fff" stroke="#000" stroke-width="0.8"/>
<text x="1111.4" y="419.8" font-size="7" class="m">30</text>
<text x="1150.6" y="419.8" font-size="7" class="m">87</text>
<text x="1111.4" y="445.5" font-size="7" class="m">86</text>
<text x="1150.6" y="445.5" font-size="7" class="m">85</text>
<line x1="1120.5" y1="412.5" x2="1126.5" y2="412.5" stroke="#000" stroke-width="0.9"/>
<line x1="1142.5" y1="412.5" x2="1148.5" y2="412.5" stroke="#000" stroke-width="0.9"/>
<circle cx="1127.5" cy="412.4" r="1.2" fill="#fff" stroke="#000" stroke-width="0.8"/>
<circle cx="1141.5" cy="412.4" r="1.2" fill="#fff" stroke="#000" stroke-width="0.8"/>
<line x1="1128.3" y1="411.6" x2="1139.8" y2="403.9" stroke="#000" stroke-width="1.1"/>
<line x1="1134.5" y1="410.4" x2="1134.5" y2="429.4" stroke="#999" stroke-width="1.4"/>
<rect x="1129.5" y="429.5" width="10" height="17" fill="none" stroke="#000" stroke-width="1"/>
<line x1="1130" y1="442.4" x2="1138.7" y2="433.4" stroke="#000" stroke-width="0.9"/>
<line x1="1120.5" y1="437.5" x2="1129.5" y2="437.5" stroke="#000" stroke-width="0.9"/>
<line x1="1139.5" y1="437.5" x2="1148.5" y2="437.5" stroke="#000" stroke-width="0.9"/>
<polyline points="1123.5,437.5 1123.5,457.5 1145.5,457.5 1145.5,437.5" fill="none" stroke="#000" stroke-width="0.9"/>
<polygon points="1131.5,457.6 1137,455 1137,460.2" fill="#fff" stroke="#000" stroke-width="0.9"/>
<line x1="1131.5" y1="454.5" x2="1131.5" y2="460.5" stroke="#000" stroke-width="0.9"/>
<text x="1117.6" y="486.9" font-size="9.2" class="m">RE3102</text>
<rect x="1121" y="490.5" width="27.2" height="64.9" fill="none" stroke="#7a7a7a" stroke-width="1.5"/>
<circle cx="1119.4" cy="504.7" r="1.4" fill="#fff" stroke="#000" stroke-width="0.8"/>
<circle cx="1150" cy="504.7" r="1.4" fill="#fff" stroke="#000" stroke-width="0.8"/>
<circle cx="1119.4" cy="530.6" r="1.4" fill="#fff" stroke="#000" stroke-width="0.8"/>
<circle cx="1150" cy="530.6" r="1.4" fill="#fff" stroke="#000" stroke-width="0.8"/>
<text x="1111.4" y="512.1" font-size="7" class="m">30</text>
<text x="1150.6" y="512.1" font-size="7" class="m">87</text>
<text x="1111.4" y="538.7" font-size="7" class="m">86</text>
<text x="1150.6" y="538.7" font-size="7" class="m">85</text>
<line x1="1120.5" y1="504.5" x2="1126.5" y2="504.5" stroke="#000" stroke-width="0.9"/>
<line x1="1142.5" y1="504.5" x2="1148.5" y2="504.5" stroke="#000" stroke-width="0.9"/>
<circle cx="1127.5" cy="504.7" r="1.2" fill="#fff" stroke="#000" stroke-width="0.8"/>
<circle cx="1141.5" cy="504.7" r="1.2" fill="#fff" stroke="#000" stroke-width="0.8"/>
<line x1="1128.3" y1="503.9" x2="1139.8" y2="496.2" stroke="#000" stroke-width="1.1"/>
<line x1="1134.5" y1="502.7" x2="1134.5" y2="521.7" stroke="#999" stroke-width="1.4"/>
<rect x="1129.5" y="521.5" width="10" height="17" fill="none" stroke="#000" stroke-width="1"/>
<line x1="1130" y1="534.7" x2="1138.7" y2="525.7" stroke="#000" stroke-width="0.9"/>
<line x1="1120.5" y1="530.5" x2="1129.5" y2="530.5" stroke="#000" stroke-width="0.9"/>
<line x1="1139.5" y1="530.5" x2="1148.5" y2="530.5" stroke="#000" stroke-width="0.9"/>
<polyline points="1123.5,530.5 1123.5,549.5 1145.5,549.5 1145.5,530.5" fill="none" stroke="#000" stroke-width="0.9"/>
<polygon points="1131.5,549.9 1137,547.3 1137,552.5" fill="#fff" stroke="#000" stroke-width="0.9"/>
<line x1="1131.5" y1="547.5" x2="1131.5" y2="552.5" stroke="#000" stroke-width="0.9"/>
<polyline points="1151,412 1168,412 1168,429 1203,429 1203,488 1261,488" fill="none" stroke="#000" stroke-width="1.9"/>
<polyline points="1118,437 1092,437 1092,574" fill="none" stroke="#000" stroke-width="1.9"/>
<polyline points="1151,437 1177,437 1177,590 1186,590" fill="none" stroke="#000" stroke-width="1.9"/>
<line x1="1151" y1="505" x2="1228" y2="505" stroke="#000" stroke-width="1.9"/>
<line x1="1040" y1="531" x2="1118" y2="531" stroke="#000" stroke-width="1.9"/>
<line x1="1151" y1="531" x2="1337" y2="531" stroke="#000" stroke-width="1.9"/>
<line x1="1337.5" y1="531.5" x2="1385.5" y2="531.5" stroke="#555" stroke-width="0.9"/>
<polygon points="1390.6,531 1385,529 1385,533" fill="#000" stroke="none" stroke-width="0"/>
<polyline points="1236,488 1236,446 1262,446" fill="none" stroke="#000" stroke-width="1.9"/>
<circle cx="1050" cy="531" r="2.7" fill="#000"/>
<circle cx="1092.2" cy="531" r="2.7" fill="#000"/>
<circle cx="1177.3" cy="531" r="2.7" fill="#000"/>
<circle cx="1236.5" cy="488" r="2.7" fill="#000"/>
<circle cx="1313" cy="504.7" r="2.7" fill="#000"/>
<circle cx="1059.8" cy="531" r="1.4" fill="#fff" stroke="#000" stroke-width="0.8"/>
<circle cx="1073.7" cy="531" r="1.4" fill="#fff" stroke="#000" stroke-width="0.8"/>
<rect x="1061.5" y="527" width="10.5" height="8" fill="#fff" stroke="none" stroke-width="0"/>
<line x1="1061.5" y1="531.5" x2="1072.5" y2="531.5" stroke="#000" stroke-width="0.8"/>
<polygon points="1063.5,527.8 1063.5,534.2 1068.8,531" fill="#fff" stroke="#000" stroke-width="0.8"/>
<line x1="1069.5" y1="527.5" x2="1069.5" y2="534.5" stroke="#000" stroke-width="0.9"/>
<text x="1056.5" y="523.7" font-size="9.3" class="m">DI10</text>
<circle cx="1092.2" cy="574.8" r="1.4" fill="#fff" stroke="#000" stroke-width="0.8"/>
<circle cx="1092.2" cy="588.5" r="1.4" fill="#fff" stroke="#000" stroke-width="0.8"/>
<line x1="1092.5" y1="576.5" x2="1092.5" y2="587.5" stroke="#000" stroke-width="0.8"/>
<polygon points="1089.4,583.6 1095.8,583.6 1092.2,578.3" fill="#fff" stroke="#000" stroke-width="0.8"/>
<line x1="1089.5" y1="578.5" x2="1096.5" y2="578.5" stroke="#000" stroke-width="0.9"/>
<text x="1082" y="585.05" font-size="9.3" text-anchor="middle" class="m" transform="rotate(-90 1082 581.8)">DI11</text>
<polyline points="1050,531 1050,644 1062,644" fill="none" stroke="#000" stroke-width="1.9"/>
<circle cx="1063" cy="644" r="1.4" fill="#fff" stroke="#000" stroke-width="0.8"/>
<circle cx="1076.6" cy="644" r="1.4" fill="#fff" stroke="#000" stroke-width="0.8"/>
<circle cx="1090" cy="644" r="1.4" fill="#fff" stroke="#000" stroke-width="0.8"/>
<line x1="1064.5" y1="644.5" x2="1075.5" y2="644.5" stroke="#000" stroke-width="0.8"/>
<polygon points="1066.6,640.8 1066.6,647.2 1071.8,644" fill="#fff" stroke="#000" stroke-width="0.8"/>
<line x1="1072.5" y1="640.5" x2="1072.5" y2="647.5" stroke="#000" stroke-width="0.9"/>
<line x1="1078" y1="644" x2="1089" y2="644" stroke="#000" stroke-width="1.9"/>
<text x="1061.6" y="638" font-size="9.3" class="m">DI12</text>
<rect x="1264.5" y="438.5" width="22" height="15" fill="none" stroke="#000" stroke-width="1"/>
<circle cx="1263.3" cy="445.5" r="1.5" fill="#fff" stroke="#000" stroke-width="0.8"/>
<text x="1275.8" y="449.65" font-size="11" text-anchor="middle" class="m">15A</text>
<rect x="1231.5" y="497.5" width="21" height="15" fill="none" stroke="#000" stroke-width="1"/>
<circle cx="1229.2" cy="504.7" r="1.5" fill="#fff" stroke="#000" stroke-width="0.8"/>
<text x="1241.75" y="509.15" font-size="11" text-anchor="middle" class="m">15B</text>
<rect x="1188.5" y="582.5" width="22" height="15" fill="none" stroke="#000" stroke-width="1"/>
<circle cx="1187" cy="590.3" r="1.5" fill="#fff" stroke="#000" stroke-width="0.8"/>
<text x="1199.55" y="594.2" font-size="11" text-anchor="middle" class="m">31</text>
<text x="1184.2" y="585" font-size="6" text-anchor="middle" font-weight="bold">1</text>
<text x="1264.8" y="481" font-size="9.6" class="m">FU02</text>
<circle cx="1262.7" cy="488" r="1.5" fill="#fff" stroke="#000" stroke-width="0.8"/>
<rect x="1266.5" y="484.5" width="16" height="8" fill="none" stroke="#000" stroke-width="1"/>
<circle cx="1285.7" cy="488" r="1.5" fill="#fff" stroke="#000" stroke-width="0.8"/>
<text x="1273.5" y="499.2" font-size="6.5" text-anchor="middle" font-weight="bold">10A</text>
<polyline points="1287,488 1296,488 1296,505 1337,505" fill="none" stroke="#000" stroke-width="1.9"/>
<line x1="1337.5" y1="504.5" x2="1353.5" y2="504.5" stroke="#999" stroke-width="0.8" stroke-dasharray="2 1.5"/>
<circle cx="1354.8" cy="504.7" r="1.4" fill="#fff" stroke="#888" stroke-width="0.7"/>
<polyline points="1313,505 1313,488 1337,488" fill="none" stroke="#000" stroke-width="1.9"/>
<line x1="1337.5" y1="488.5" x2="1385.5" y2="488.5" stroke="#555" stroke-width="0.9"/>
<polygon points="1390.6,488 1385,486 1385,490" fill="#000" stroke="none" stroke-width="0"/>
<polyline points="1342.5,486 1344.8,488 1342.5,490" fill="none" stroke="#888" stroke-width="0.7"/>
<polyline points="1342.5,529 1344.8,531 1342.5,533" fill="none" stroke="#888" stroke-width="0.7"/>
<text x="1300.4" y="468" font-size="6" font-weight="bold" textLength="87" lengthAdjust="spacingAndGlyphs">SCH02_ECU_Power_Comm:2 F</text>
<text x="1361.7" y="477" font-size="6" font-weight="bold">PO3904:1</text>
<text x="1333.9" y="484.2" font-size="6" font-weight="bold">CON5:11</text>
<text x="1362.1" y="486.3" font-size="6" font-weight="bold">0.75R</text>
<text x="1362.1" y="493.7" font-size="6" font-weight="bold">F02A</text>
<text x="1333.2" y="501.5" font-size="6" font-weight="bold">CON2:18</text>
<text x="1328.2" y="514.6" font-size="8.3" class="m">Power spare 2nd</text>
<text x="1335.3" y="527.8" font-size="6" font-weight="bold">CON4:3</text>
<text x="1362" y="528.7" font-size="6" font-weight="bold">1.0SB</text>
<text x="1362" y="536.2" font-size="6" font-weight="bold">31F2</text>
<text x="1249.1" y="567.3" font-size="9.2" class="m">MO3301</text>
<rect x="1248.5" y="571.5" width="36" height="60" fill="none" stroke="#000" stroke-width="1"/>
<line x1="1247.5" y1="589.5" x2="1285.5" y2="589.5" stroke="#666" stroke-width="0.9"/>
<circle cx="1246.4" cy="589.8" r="1.4" fill="#fff" stroke="#000" stroke-width="0.8"/>
<circle cx="1286.4" cy="589.8" r="1.4" fill="#fff" stroke="#000" stroke-width="0.8"/>
<rect x="1260.5" y="581.5" width="11" height="17" fill="#fff" stroke="#000" stroke-width="1"/>
<line x1="1261.5" y1="594" x2="1271" y2="585.5" stroke="#000" stroke-width="0.9"/>
<text x="1233.9" y="603.2" font-size="7" class="m">30:1</text>
<text x="1233.2" y="621" font-size="7" class="m">30:2</text>
<circle cx="1246.6" cy="607.2" r="1.5" fill="#fff" stroke="#000" stroke-width="0.8"/>
<circle cx="1246.6" cy="623.6" r="1.5" fill="#fff" stroke="#000" stroke-width="0.8"/>
<line x1="1284.5" y1="603.5" x2="1291.5" y2="603.5" stroke="#555" stroke-width="0.8"/>
<line x1="1284.5" y1="608.5" x2="1291.5" y2="608.5" stroke="#555" stroke-width="0.8"/>
<rect x="1291.5" y="597.5" width="6" height="17" fill="none" stroke="#000" stroke-width="1"/>
<line x1="1291.5" y1="601.5" x2="1297.5" y2="601.5" stroke="#000" stroke-width="0.8"/>
<line x1="1291.5" y1="605.5" x2="1297.5" y2="605.5" stroke="#000" stroke-width="0.8"/>
<line x1="1291.5" y1="610.5" x2="1297.5" y2="610.5" stroke="#000" stroke-width="0.8"/>
<text x="1252.2" y="638.6" font-size="7" class="m">31:1</text>
<circle cx="1270.9" cy="632.8" r="1.4" fill="#fff" stroke="#000" stroke-width="0.8"/>
<polyline points="1271,634 1271,641 1347,641" fill="none" stroke="#000" stroke-width="1.9"/>
<text x="1340.3" y="628.9" font-size="9.3" class="m">31GE1</text>
<text x="1341.8" y="640" font-size="6.5">A</text>
<circle cx="1348.7" cy="640.6" r="1.5" fill="#fff" stroke="#000" stroke-width="0.8"/>
<line x1="1351.5" y1="632.5" x2="1351.5" y2="657.5" stroke="#000" stroke-width="1"/>
<line x1="1351.4" y1="633" x2="1360" y2="641" stroke="#000" stroke-width="1"/>
<line x1="1351.4" y1="641.5" x2="1360" y2="649.5" stroke="#000" stroke-width="1"/>
<line x1="1351.4" y1="650" x2="1360" y2="658" stroke="#000" stroke-width="1"/>
<text x="1358.5" y="678.8" font-size="7" font-weight="bold">V1135430</text>
<polygon points="542.9,973.5 550,967 550,980" fill="#333" stroke="#fff" stroke-width="1.6" paint-order="stroke" stroke-linejoin="round"/><polygon points="552,970 555.1,967 555.1,980 552,977" fill="#333" stroke="#fff" stroke-width="1.6" paint-order="stroke" stroke-linejoin="round"/><polygon points="569.9,973.5 576.9,967 576.9,980" fill="#333" stroke="#fff" stroke-width="1.6" paint-order="stroke" stroke-linejoin="round"/><polygon points="720.2,973.5 713,967 713,980" fill="#333" stroke="#fff" stroke-width="1.6" paint-order="stroke" stroke-linejoin="round"/><polygon points="739.5,970 736.4,967 736.4,980 739.5,977" fill="#333" stroke="#fff" stroke-width="1.6" paint-order="stroke" stroke-linejoin="round"/><polygon points="748.6,973.5 741.5,967 741.5,980" fill="#333" stroke="#fff" stroke-width="1.6" paint-order="stroke" stroke-linejoin="round"/><polygon points="693.8,972 699.4,972 696.6,975.2" fill="#222"/><rect x="760.5" y="966.5" width="9" height="1.6" fill="#3a6ea5"/><path d="M760.5 966.5 v9" stroke="#555" stroke-width="1" fill="none"/><rect x="765.5" y="973.5" width="10" height="8" fill="#fff" stroke="#666" stroke-width="1"/><rect x="765.5" y="973.5" width="10" height="1.6" fill="#555"/><path d="M766 969.5 h9 M768.5 967 l-2.8 2.5 l2.8 2.5" stroke="#3c9a6a" stroke-width="1.2" fill="none"/><rect x="786" y="966.5" width="10" height="8" fill="none" stroke="#b9c0c6" stroke-width="1"/><rect x="791.5" y="973.5" width="10" height="8" fill="#f4f4f4" stroke="#b9c0c6" stroke-width="1"/><path d="M786 977 h6 M790 975 l2.2 2 l-2.2 2" stroke="#a9c9b9" stroke-width="1" fill="none"/><rect x="1352.5" y="967.5" width="10" height="13" fill="none" stroke="#6a6a6a" stroke-width="1"/><line x1="1354.5" y1="970.5" x2="1360.5" y2="970.5" stroke="#8a8a8a" stroke-width="1"/><line x1="1354.5" y1="973.5" x2="1360.5" y2="973.5" stroke="#8a8a8a" stroke-width="1"/><line x1="1354.5" y1="976.5" x2="1360.5" y2="976.5" stroke="#8a8a8a" stroke-width="1"/><rect x="1377.5" y="966.5" width="10" height="9" fill="none" stroke="#6a6a6a" stroke-width="1"/><line x1="1379.5" y1="969.5" x2="1385.5" y2="969.5" stroke="#8a8a8a" stroke-width="1"/><line x1="1379.5" y1="972.5" x2="1385.5" y2="972.5" stroke="#8a8a8a" stroke-width="1"/><path d="M1377.5 982 v-4 h10 v4" fill="none" stroke="#6a6a6a" stroke-width="1"/><line x1="1379.5" y1="980.5" x2="1385.5" y2="980.5" stroke="#8a8a8a" stroke-width="1"/><rect x="1398" y="964.8" width="24" height="18" fill="#c8d6f0"/><rect x="1402.5" y="967.5" width="6.5" height="12" fill="none" stroke="#6a6a6a" stroke-width="1"/><line x1="1404.5" y1="970.5" x2="1407.0" y2="970.5" stroke="#8a8a8a" stroke-width="1"/><line x1="1404.5" y1="973.5" x2="1407.0" y2="973.5" stroke="#8a8a8a" stroke-width="1"/><line x1="1404.5" y1="976.5" x2="1407.0" y2="976.5" stroke="#8a8a8a" stroke-width="1"/><rect x="1411.5" y="967.5" width="6.5" height="12" fill="none" stroke="#6a6a6a" stroke-width="1"/><line x1="1413.5" y1="970.5" x2="1416.0" y2="970.5" stroke="#8a8a8a" stroke-width="1"/><line x1="1413.5" y1="973.5" x2="1416.0" y2="973.5" stroke="#8a8a8a" stroke-width="1"/><line x1="1413.5" y1="976.5" x2="1416.0" y2="976.5" stroke="#8a8a8a" stroke-width="1"/><path d="M1428 967.5 h6 M1428 970.5 h6 M1428 973.5 h6 M1434 966 v9 M1437 966 v9 M1437 967.5 h6 M1437 970.5 h6 M1437 973.5 h6 M1428 977.5 h6 v5 M1428 980.5 h6 M1437 982.5 v-5 h6 M1437 980.5 h6" fill="none" stroke="#777" stroke-width="1"/>
</svg>
</body></html>
